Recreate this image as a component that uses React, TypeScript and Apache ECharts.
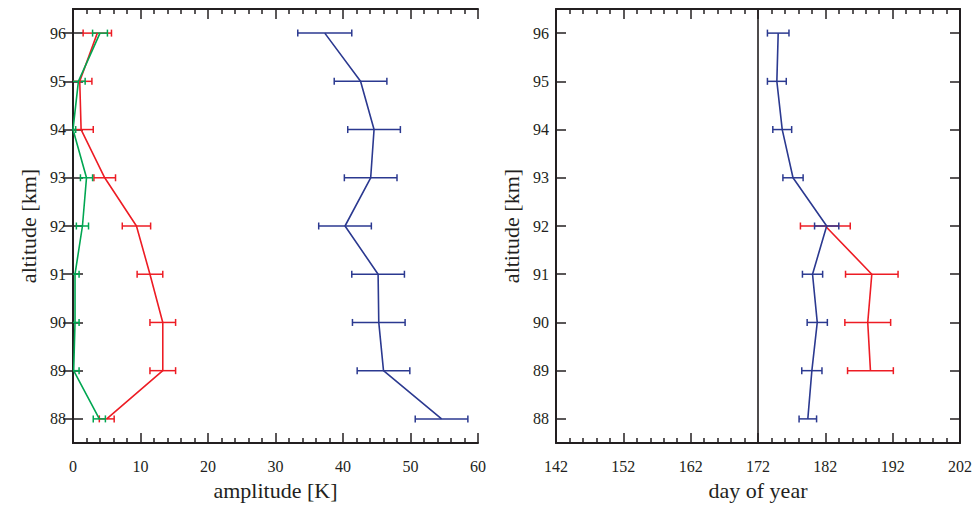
import React, { useEffect, useRef } from "react";
import * as echarts from "echarts";

// altitude levels (km)
const altitudes = [88, 89, 90, 91, 92, 93, 94, 95, 96];
const altTicks = [88, 89, 90, 91, 92, 93, 94, 95, 96];

// left panel: amplitude [K]
const blueAmp = [54.6, 46.0, 45.3, 45.2, 40.3, 44.1, 44.6, 42.6, 37.3];
const blueAmpErr = [3.9, 3.9, 3.9, 3.9, 3.9, 3.9, 3.9, 3.9, 4.0];
const redAmp = [5.0, 13.3, 13.3, 11.4, 9.4, 4.7, 1.2, 1.0, 3.6];
const redAmpErr = [1.1, 1.9, 1.9, 1.9, 2.1, 1.6, 1.8, 1.8, 2.1];
const greenAmp = [3.9, 0.1, 0.3, 0.3, 1.4, 2.0, 0.0, 0.8, 4.0];
const greenAmpErr = [0.9, 0.8, 0.6, 0.6, 0.9, 0.9, 0.4, 1.0, 1.1];

// right panel: day of year
const blueDay = [179.4, 180.0, 180.8, 180.1, 182.2, 177.2, 175.6, 174.8, 175.0];
const blueDayErr = [1.3, 1.5, 1.5, 1.5, 1.8, 1.5, 1.4, 1.4, 1.6];
const redDayAlt = [89, 90, 91, 92];
const redDay = [188.7, 188.3, 188.9, 182.0];
const redDayErr = [3.4, 3.4, 3.9, 3.7];
const refDay = 172;

// tick labels
const ampTicks = [0, 10, 20, 30, 40, 50, 60];
const ampMinor = [2, 4, 6, 8, 12, 14, 16, 18, 22, 24, 26, 28, 32, 34, 36, 38, 42, 44, 46, 48, 52, 54, 56, 58];
const dayTicks = [142, 152, 162, 172, 182, 192, 202];
const dayMinor = [144, 146, 148, 150, 154, 156, 158, 160, 164, 166, 168, 170, 174, 176, 178, 180, 184, 186, 188, 190, 194, 196, 198, 200];

const BLUE = "#2b3990";
const RED = "#ed1c24";
const GREEN = "#00a651";
const INK = "#231f20";
const FONT = "'Liberation Serif', 'Times New Roman', Times, serif";

function errSeries(xIdx: number, yIdx: number, vals: number[], errs: number[], alts: number[], color: string) {
  return {
    type: "custom",
    xAxisIndex: xIdx,
    yAxisIndex: yIdx,
    clip: true,
    silent: true,
    encode: { x: [0, 1], y: 2 },
    data: alts.map((a, i) => [vals[i] - errs[i], vals[i] + errs[i], a]),
    renderItem: (params: any, api: any) => {
      const y = api.value(2);
      const p1 = api.coord([api.value(0), y]);
      const p2 = api.coord([api.value(1), y]);
      const h = 3.5;
      const style = { stroke: color, lineWidth: 1.5, fill: null };
      return {
        type: "group",
        children: [
          { type: "line", shape: { x1: p1[0], y1: p1[1], x2: p2[0], y2: p2[1] }, style },
          { type: "line", shape: { x1: p1[0], y1: p1[1] - h, x2: p1[0], y2: p1[1] + h }, style },
          { type: "line", shape: { x1: p2[0], y1: p2[1] - h, x2: p2[0], y2: p2[1] + h }, style },
        ],
      };
    },
  };
}

function lineSeries(xIdx: number, yIdx: number, vals: number[], alts: number[], color: string) {
  return {
    type: "line",
    xAxisIndex: xIdx,
    yAxisIndex: yIdx,
    showSymbol: false,
    silent: true,
    lineStyle: { color, width: 1.6 },
    data: alts.map((a, i) => [vals[i], a]),
  };
}

function xAxes(gridIndex: number, min: number, max: number, major: number[], minor: number[], name: string) {
  const label = { fontFamily: FONT, fontSize: 16, color: INK, margin: 15 };
  return [
    {
      type: "value", gridIndex, min, max, position: "bottom",
      name, nameLocation: "middle", nameGap: 36,
      nameTextStyle: { fontFamily: FONT, fontSize: 22, color: INK },
      axisLine: { show: true, lineStyle: { color: INK, width: 2 } },
      axisTick: { show: true, inside: true, length: 10, customValues: major, lineStyle: { color: INK, width: 1.5 } },
      axisLabel: { show: true, customValues: major, ...label },
      splitLine: { show: false },
    },
    {
      type: "value", gridIndex, min, max, position: "bottom",
      axisLine: { show: false },
      axisTick: { show: true, inside: true, length: 5, customValues: minor, lineStyle: { color: INK, width: 1.5 } },
      axisLabel: { show: false },
      splitLine: { show: false },
    },
    {
      type: "value", gridIndex, min, max, position: "top",
      axisLine: { show: true, lineStyle: { color: INK, width: 2 } },
      axisTick: { show: true, inside: true, length: 10, customValues: major, lineStyle: { color: INK, width: 1.5 } },
      axisLabel: { show: false },
      splitLine: { show: false },
    },
    {
      type: "value", gridIndex, min, max, position: "top",
      axisLine: { show: false },
      axisTick: { show: true, inside: true, length: 5, customValues: minor, lineStyle: { color: INK, width: 1.5 } },
      axisLabel: { show: false },
      splitLine: { show: false },
    },
  ];
}

function yAxes(gridIndex: number) {
  return [
    {
      type: "value", gridIndex, min: 87.5, max: 96.5, position: "left",
      name: "altitude [km]", nameLocation: "middle", nameGap: 34,
      nameTextStyle: { fontFamily: FONT, fontSize: 22, color: INK },
      axisLine: { show: true, lineStyle: { color: INK, width: 2 } },
      axisTick: { show: true, inside: true, length: 10, customValues: altTicks, lineStyle: { color: INK, width: 1.5 } },
      axisLabel: { show: true, customValues: altTicks, fontFamily: FONT, fontSize: 16, color: INK, margin: 7 },
      splitLine: { show: false },
    },
    {
      type: "value", gridIndex, min: 87.5, max: 96.5, position: "right",
      axisLine: { show: true, lineStyle: { color: INK, width: 2 } },
      axisTick: { show: true, inside: true, length: 10, customValues: altTicks, lineStyle: { color: INK, width: 1.5 } },
      axisLabel: { show: false },
      splitLine: { show: false },
    },
  ];
}

export default function App() {
  const ref = useRef<HTMLDivElement>(null);
  useEffect(() => {
    if (!ref.current) return;
    const chart = echarts.init(ref.current, undefined, { renderer: "svg" });
    chart.setOption({
      animation: false,
      backgroundColor: "#ffffff",
      textStyle: { fontFamily: FONT },
      grid: [
        { left: 73, top: 9, width: 405, height: 434 },
        { left: 556, top: 9, width: 405, height: 434 },
      ],
      xAxis: [
        ...xAxes(0, 0, 60, ampTicks, ampMinor, "amplitude [K]"),
        ...xAxes(1, 142, 202, dayTicks, dayMinor, "day of year"),
      ],
      yAxis: [...yAxes(0), ...yAxes(1)],
      series: [
        lineSeries(0, 0, blueAmp, altitudes, BLUE),
        errSeries(0, 0, blueAmp, blueAmpErr, altitudes, BLUE),
        lineSeries(0, 0, redAmp, altitudes, RED),
        errSeries(0, 0, redAmp, redAmpErr, altitudes, RED),
        lineSeries(0, 0, greenAmp, altitudes, GREEN),
        errSeries(0, 0, greenAmp, greenAmpErr, altitudes, GREEN),
        {
          type: "line",
          xAxisIndex: 4,
          yAxisIndex: 2,
          showSymbol: false,
          silent: true,
          lineStyle: { color: INK, width: 1.6 },
          data: [[refDay, 87.5], [refDay, 96.5]],
        },
        lineSeries(4, 2, redDay, redDayAlt, RED),
        errSeries(4, 2, redDay, redDayErr, redDayAlt, RED),
        lineSeries(4, 2, blueDay, altitudes, BLUE),
        errSeries(4, 2, blueDay, blueDayErr, altitudes, BLUE),
      ],
    });
    return () => chart.dispose();
  }, []);
  return (
    <div
      ref={ref}
      style={{ position: "fixed", left: 0, top: 0, width: 975, height: 506, background: "#fff" }}
    />
  );
}
